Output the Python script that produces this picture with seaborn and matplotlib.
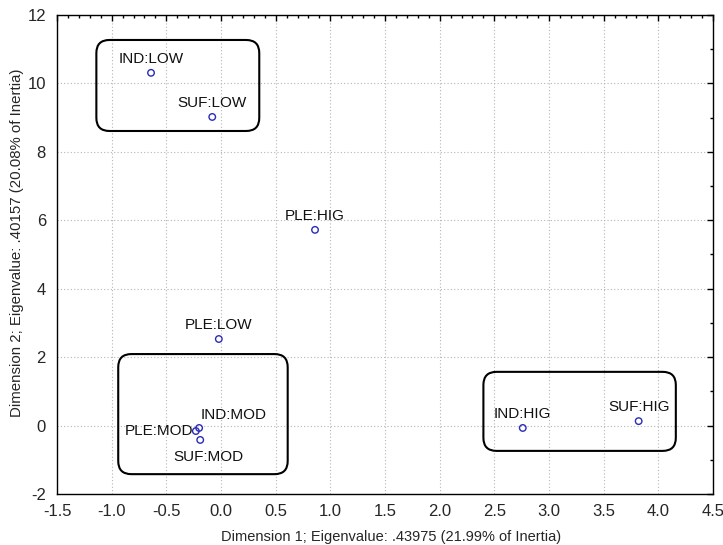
import matplotlib
matplotlib.use("Agg")
import matplotlib.pyplot as plt
import seaborn as sns
import pandas as pd
from matplotlib.patches import FancyBboxPatch
from matplotlib.ticker import MultipleLocator

labels = ["IND:LOW", "SUF:LOW", "PLE:HIG", "PLE:LOW", "IND:MOD", "PLE:MOD", "SUF:MOD", "IND:HIG", "SUF:HIG"]
dim1 = [-0.64, -0.08, 0.86, -0.02, -0.20, -0.23, -0.19, 2.76, 3.82]
dim2 = [10.31, 9.02, 5.72, 2.53, -0.07, -0.16, -0.42, -0.07, 0.13]
x_ticks = [-1.5, -1.0, -0.5, 0.0, 0.5, 1.0, 1.5, 2.0, 2.5, 3.0, 3.5, 4.0, 4.5]
y_ticks = [-2, 0, 2, 4, 6, 8, 10, 12]

x_label = "Dimension 1; Eigenvalue: .43975 (21.99% of Inertia)"
y_label = "Dimension 2; Eigenvalue: .40157 (20.08% of Inertia)"

df = pd.DataFrame({"label": labels, "d1": dim1, "d2": dim2})

sns.set_style("white")
plt.rcParams["font.family"] = ["Liberation Sans", "DejaVu Sans"]

fig = plt.figure(figsize=(7.23, 5.45), dpi=100)
ax = fig.add_axes([57/723, 51/545, 656/723, 479/545])

sns.scatterplot(data=df, x="d1", y="d2", ax=ax, marker="o", s=22,
                facecolors="none", edgecolor="#2a2ab8", linewidth=1.0, zorder=5)

ax.set_xticks(x_ticks)
ax.set_xticklabels([f"{v:.1f}" for v in x_ticks])
ax.set_yticks(y_ticks)
ax.set_yticklabels([str(v) for v in y_ticks])
ax.xaxis.set_minor_locator(MultipleLocator(0.1))
ax.yaxis.set_minor_locator(MultipleLocator(1))
ax.set_xlim(-1.5, 4.5)
ax.set_ylim(-2, 12)

ax.tick_params(which="both", direction="in", top=True, right=True, color="black")
ax.tick_params(axis="x", which="major", labelsize=12, pad=7)
ax.tick_params(axis="y", which="major", labelsize=12, pad=8)
ax.tick_params(which="major", length=4, width=1)
ax.tick_params(which="minor", length=2, width=1)
ax.grid(True, which="major", linestyle=(0, (1, 2)), color="#b5b5b5", linewidth=0.8)
for sp in ax.spines.values():
    sp.set_color("black")
    sp.set_linewidth(1.0)

ax.set_xlabel("")
ax.set_ylabel("")
fig.text(391/723, 1 - 537/545, x_label, fontsize=10.5, ha="center", va="center")
fig.text(17/723, 1 - 243/545, y_label, fontsize=10.8, ha="center", va="center", rotation=90)

# label placement (offset in points, ha, va)
place = {
    "IND:LOW": ((0, 5), "center", "bottom"),
    "SUF:LOW": ((0, 5), "center", "bottom"),
    "PLE:HIG": ((0, 5), "center", "bottom"),
    "PLE:LOW": ((0, 5), "center", "bottom"),
    "IND:MOD": ((1, 4), "left", "bottom"),
    "PLE:MOD": ((-2, 0), "right", "center"),
    "SUF:MOD": ((6, -7), "center", "top"),
    "IND:HIG": ((0, 5), "center", "bottom"),
    "SUF:HIG": ((0, 5), "center", "bottom"),
}
for lab, x, y in zip(labels, dim1, dim2):
    off, ha, va = place[lab]
    ax.annotate(lab, (x, y), xytext=off, textcoords="offset points",
                ha=ha, va=va, fontsize=11, color="#111111", zorder=6)

# rounded boxes around clusters
boxes = [(-1.14, 8.61, 1.49, 2.66), (-0.94, -1.42, 1.55, 3.51), (2.40, -0.74, 1.76, 2.31)]
for (bx, by, bw, bh) in boxes:
    p = FancyBboxPatch((bx, by), bw, bh, boxstyle="round,pad=0,rounding_size=0.12",
                       mutation_aspect=3.2,
                       fill=False, edgecolor="black", linewidth=1.5, zorder=4)
    ax.add_patch(p)

fig.savefig("out.png", dpi=100, facecolor="white")
